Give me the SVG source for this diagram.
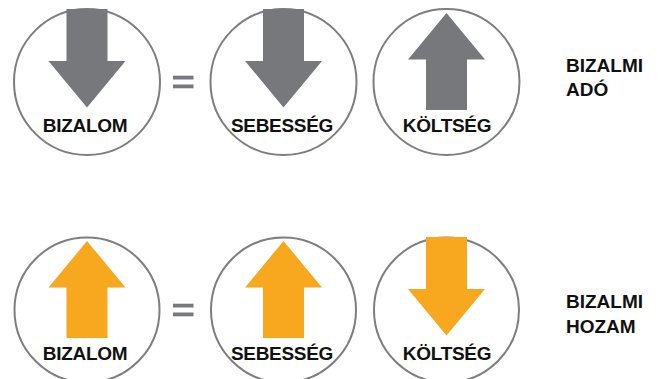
<svg xmlns="http://www.w3.org/2000/svg" xmlns:xlink="http://www.w3.org/1999/xlink" width="661" height="379" viewBox="0 0 661 379">
<style>
.ring{fill:#fff;stroke:#7e7e80;stroke-width:2}
.gray{fill:#77787b}
.orange{fill:#f7a81e}
.lbl{font-family:"Liberation Sans",Arial,Helvetica,sans-serif;font-weight:bold;font-size:19px;letter-spacing:-0.3px;fill:#111;text-anchor:middle}
.side{font-family:"Liberation Sans",Arial,Helvetica,sans-serif;font-weight:bold;font-size:19px;fill:#111}
.eq{fill:#77787b}
</style>
<defs>
<path id="down" d="M-20.5,-73 H20.5 V-21 H38.5 L0,25.5 L-38.5,-21 H-20.5 Z"/>
<path id="up" d="M0,-69 L38.5,-22.5 H20.5 V28 H-20.5 V-22.5 H-38.5 Z"/>
</defs>
<rect width="661" height="379" fill="#fff"/>

<g id="top-bizalom" transform="translate(87,82)">
<circle class="ring" r="73"/>
<use xlink:href="#down" class="gray"/>
<text class="lbl" x="-2" y="50">BIZALOM</text>
</g>
<g id="top-eq">
<rect class="eq" x="173" y="75.7" width="20.5" height="3.8"/>
<rect class="eq" x="173" y="84.5" width="20.5" height="3.8"/>
</g>
<g id="top-sebesseg" transform="translate(283.5,82)">
<circle class="ring" r="73"/>
<use xlink:href="#down" class="gray"/>
<text class="lbl" x="-1.5" y="50">SEBESSÉG</text>
</g>
<g id="top-koltseg" transform="translate(446.5,82)">
<circle class="ring" r="73"/>
<use xlink:href="#up" class="gray"/>
<text class="lbl" x="0.5" y="50">KÖLTSÉG</text>
</g>
<g id="top-side">
<text class="side" x="566" y="71.5">BIZALMI</text>
<text class="side" x="566" y="95.5">ADÓ</text>
</g>

<g id="bottom-bizalom" transform="translate(87,310)">
<circle class="ring" r="72.5"/>
<use xlink:href="#up" class="orange"/>
<text class="lbl" x="-2" y="50">BIZALOM</text>
</g>
<g id="bottom-eq">
<rect class="eq" x="173" y="303.7" width="20.5" height="3.8"/>
<rect class="eq" x="173" y="312.5" width="20.5" height="3.8"/>
</g>
<g id="bottom-sebesseg" transform="translate(283.5,310)">
<circle class="ring" r="72.5"/>
<use xlink:href="#up" class="orange"/>
<text class="lbl" x="-1.5" y="50">SEBESSÉG</text>
</g>
<g id="bottom-koltseg" transform="translate(446.5,310)">
<circle class="ring" r="72.5"/>
<use xlink:href="#down" class="orange"/>
<text class="lbl" x="0.5" y="50">KÖLTSÉG</text>
</g>
<g id="bottom-side">
<text class="side" x="566" y="308">BIZALMI</text>
<text class="side" x="566" y="332.5">HOZAM</text>
</g>
<g id="connectors"></g>
</svg>
